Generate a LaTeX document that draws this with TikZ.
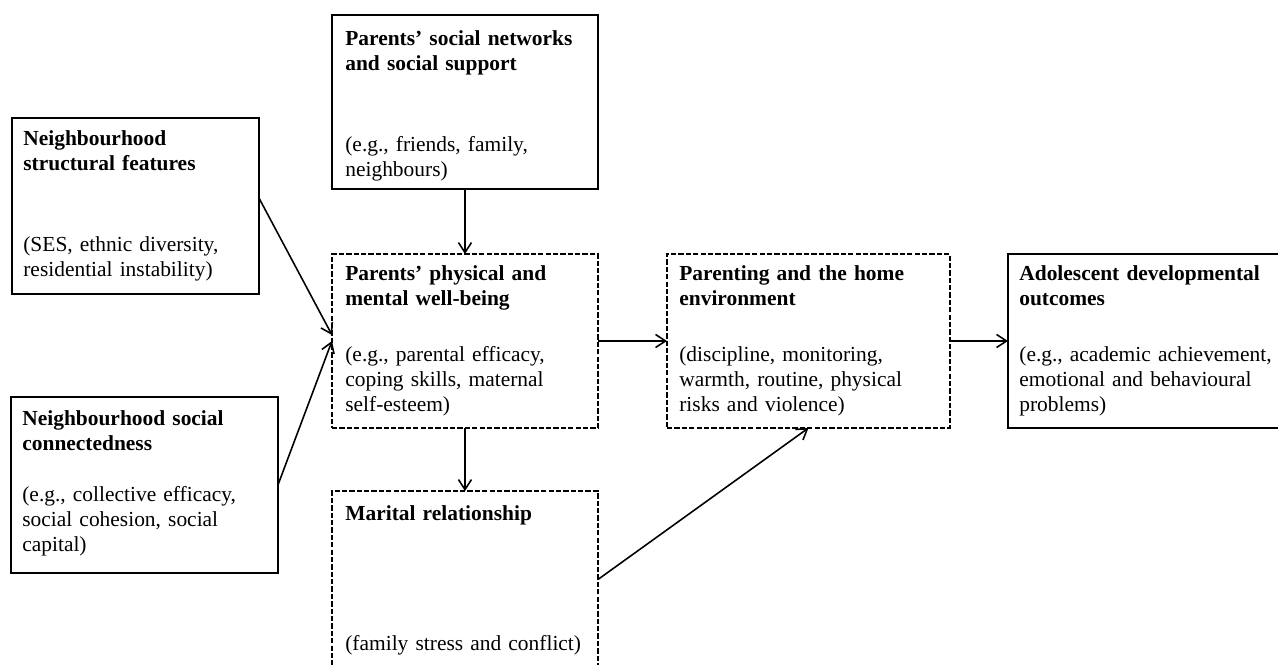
\documentclass[tikz,border=0pt]{standalone}
\usepackage{fontspec}
\setmainfont{Liberation Serif}
\usepackage{tikz}
\usetikzlibrary{arrows.meta, positioning}
\tikzset{
    box/.style={draw, rectangle, inner sep=0pt, outer sep=0pt, anchor=north west}, % empty frame, placed by its top left corner
    solidbox/.style={box, line width=1.1pt},
    dashbox/.style={box, line width=0.8pt, dash pattern=on 3pt off 1.2pt}, % the mediating boxes
    heading/.style={anchor=base west, text width=6cm, align=left, inner sep=0pt, font=\fontsize{12.2}{14.5}\selectfont\bfseries},
    gloss/.style={heading, font=\fontsize{12.2}{14.5}\selectfont},
    link/.style={->, line width=0.9pt},
    >={Straight Barb[length=2mm, width=2.6mm]}, % open arrow heads
}

\begin{document}
\begin{tikzpicture}[x=0.02cm, y=-0.02cm]
    \useasboundingbox (0,0) rectangle (1278,664);
    \clip (0,0) rectangle (1278,664);

    % frames
    \node[solidbox, minimum width=4.94cm, minimum height=3.52cm] (nsf) at (12,118) {};
    \node[solidbox, minimum width=5.34cm, minimum height=3.52cm] (nsc) at (11,397) {};
    \node[solidbox, minimum width=5.32cm, minimum height=3.48cm] (psn) at (332,15) {};
    \node[dashbox, minimum width=5.32cm, minimum height=3.48cm] (pwb) at (332,254) {};
    \node[dashbox, minimum width=5.32cm, minimum height=3.54cm] (mar) at (332,491) {};
    \node[dashbox, minimum width=5.66cm, minimum height=3.48cm] (phe) at (667,254) {};
    \node[solidbox, minimum width=5.48cm, minimum height=3.48cm] (ado) at (1008,254) {};

    % texts
    \node[heading] (nsf-t) at (23,145) {Neighbourhood\\structural features};
    \node[gloss] (nsf-d) at (23,251) {(SES, ethnic diversity,\\residential instability)};
    \node[heading] (nsc-t) at (22,425) {Neighbourhood social\\connectedness};
    \node[gloss] (nsc-d) at (22,501) {(e.g., collective efficacy,\\social cohesion, social\\capital)};
    \node[heading] (psn-t) at (345,45) {Parents’ social networks\\and social support};
    \node[gloss] (psn-d) at (345,151) {(e.g., friends, family,\\neighbours)};
    \node[heading] (pwb-t) at (345,280) {Parents’ physical and\\mental well-being};
    \node[gloss] (pwb-d) at (345,361) {(e.g., parental efficacy,\\coping skills, maternal\\self-esteem)};
    \node[heading] (mar-t) at (345,520) {Marital relationship};
    \node[gloss] (mar-d) at (345,650) {(family stress and conflict)};
    \node[heading] (phe-t) at (679,280) {Parenting and the home\\environment};
    \node[gloss] (phe-d) at (679,361) {(discipline, monitoring,\\warmth, routine, physical\\risks and violence)};
    \node[heading] (ado-t) at (1019,280) {Adolescent developmental\\outcomes};
    \node[gloss] (ado-d) at (1019,361) {(e.g., academic achievement,\\emotional and behavioural\\problems)};

    % connectors
    \draw[link] ([yshift=0.16cm]nsf.east) -- ([yshift=0.12cm]pwb.west);
    \draw[link] (nsc.east) -- (pwb.west);
    \draw[link] (psn.south) -- (pwb.north);
    \draw[link] (pwb.south) -- (mar.north);
    \draw[link] (pwb.east) -- (phe.west);
    \draw[link] (phe.east) -- (ado.west);
    \draw[link] (mar.east) -- (phe.south);
\end{tikzpicture}
\end{document}
